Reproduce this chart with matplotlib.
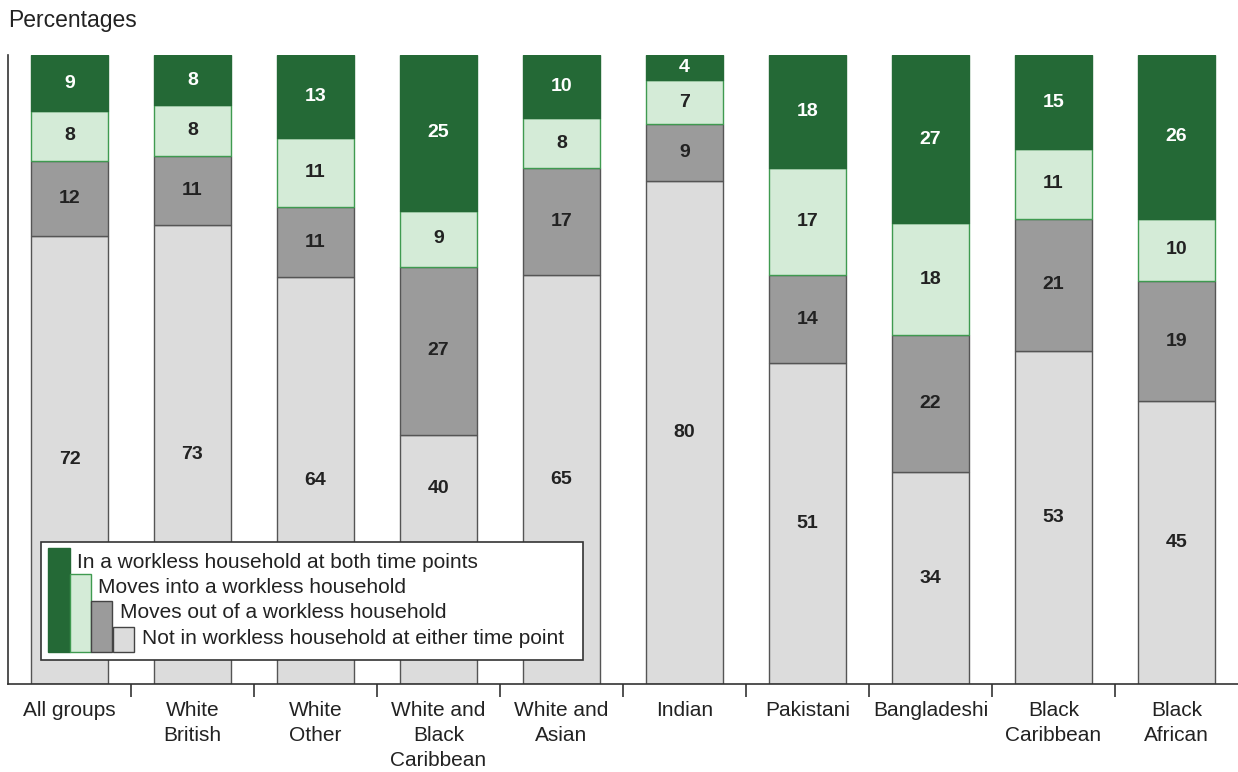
import numpy as np
import matplotlib
matplotlib.use('Agg')
import matplotlib.pyplot as plt
from matplotlib.patches import Rectangle

plt.rcParams['font.family'] = ['Liberation Sans', 'DejaVu Sans']

### Datos ###############################################
categorias = ['All groups', 'White\nBritish', 'White\nOther', 'White and\nBlack\nCaribbean',
              'White and\nAsian', 'Indian', 'Pakistani', 'Bangladeshi', 'Black\nCaribbean',
              'Black\nAfrican']
no_workless = [72, 73, 64, 40, 65, 80, 51, 34, 53, 45]
moves_out = [12, 11, 11, 27, 17, 9, 14, 22, 21, 19]
moves_into = [8, 8, 11, 9, 8, 7, 17, 18, 11, 10]
both_points = [9, 8, 13, 25, 10, 4, 18, 27, 15, 26]

series = [
    ('Not in workless household at either time point', no_workless, '#dcdcdc', '#555555', '#222222'),
    ('Moves out of a workless household', moves_out, '#9b9b9b', '#555555', '#222222'),
    ('Moves into a workless household', moves_into, '#d4ebd7', '#3f9a50', '#222222'),
    ('In a workless household at both time points', both_points, '#246936', '#246936', 'white'),
]

W, H = 1238, 772
fig = plt.figure(figsize=(W / 100, H / 100), dpi=100)
ax_bottom_px, ax_top_px = 684, 55
ax = fig.add_axes([8 / W, (H - ax_bottom_px) / H, 1 - 8 / W, (ax_bottom_px - ax_top_px) / H])

# caja de la leyenda (pixeles desde arriba)
leg_l, leg_t, leg_r, leg_b = 41, 542, 583, 660
leg_top_data = (ax_bottom_px - leg_t) / (ax_bottom_px - ax_top_px) * 100
leg_right_data = (leg_r - 8) / (W - 8) * 10 - 0.5

x = np.arange(len(categorias))
# las barras se escalan para que cada columna sume 100
totales = np.sum([s[1] for s in series], axis=0)
bottom = np.zeros(len(categorias))
for nombre, vals, color, borde, txt in series:
    alto = np.array(vals) / totales * 100
    ax.bar(x, alto, bottom=bottom, width=0.63, color=color, edgecolor=borde, linewidth=1.0)
    for xi, b, h, v in zip(x, bottom, alto, vals):
        yc = b + h / 2
        # si la etiqueta cae dentro de la leyenda, subirla al hueco visible
        if xi < leg_right_data and b < leg_top_data and yc < leg_top_data + 4:
            yc = (b + h + leg_top_data) / 2
        ax.text(xi, yc, str(v), ha='center', va='center', fontsize=14,
                fontweight='bold', color=txt)
    bottom += alto

ax.set_xlim(-0.5, 9.5)
ax.set_ylim(0, 100)
for s in ['top', 'right']:
    ax.spines[s].set_visible(False)
for s in ['left', 'bottom']:
    ax.spines[s].set_color('#333333')
    ax.spines[s].set_linewidth(1.2)
ax.set_yticks([])
ax.set_xticks(x)
ax.set_xticklabels(categorias, fontsize=15, color='#222222', linespacing=1.4, va='top')
ax.tick_params(axis='x', which='major', length=0, pad=12)
ax.set_xticks(np.arange(0.5, 9.5, 1), minor=True)
ax.tick_params(axis='x', which='minor', length=9, width=1.2, color='#333333', direction='out')

fig.text(8 / W, 1 - 20 / H, 'Percentages', fontsize=16.5, color='#222222', va='center', ha='left')

#### Leyenda escalonada ###############################################
def px(xp, yp):
    return xp / W, 1 - yp / H

x0, y0 = px(leg_l, leg_t)
x1, y1 = px(leg_r, leg_b)
fig.patches.append(Rectangle((x0, y1), x1 - x0, y0 - y1, transform=fig.transFigure,
                             facecolor='white', edgecolor='#333333', linewidth=1.2, zorder=5))
leyenda = list(reversed(series))
for i, (nombre, vals, color, borde, txt) in enumerate(leyenda):
    sx = 48 + i * 21.5
    sy = 548 + i * 26.3
    a, b = px(sx, sy)
    c, d = px(sx + 21.5, 652)
    fig.patches.append(Rectangle((a, d), c - a, b - d, transform=fig.transFigure,
                                 facecolor=color, edgecolor=borde if i < 2 else '#444444',
                                 linewidth=1.0, zorder=6))
    tx, ty = px(sx + 29, 562 + i * 25.4)
    fig.text(tx, ty, nombre, fontsize=15, color='#222222', va='center', ha='left', zorder=7)

plt.savefig('out.png', dpi=100)
